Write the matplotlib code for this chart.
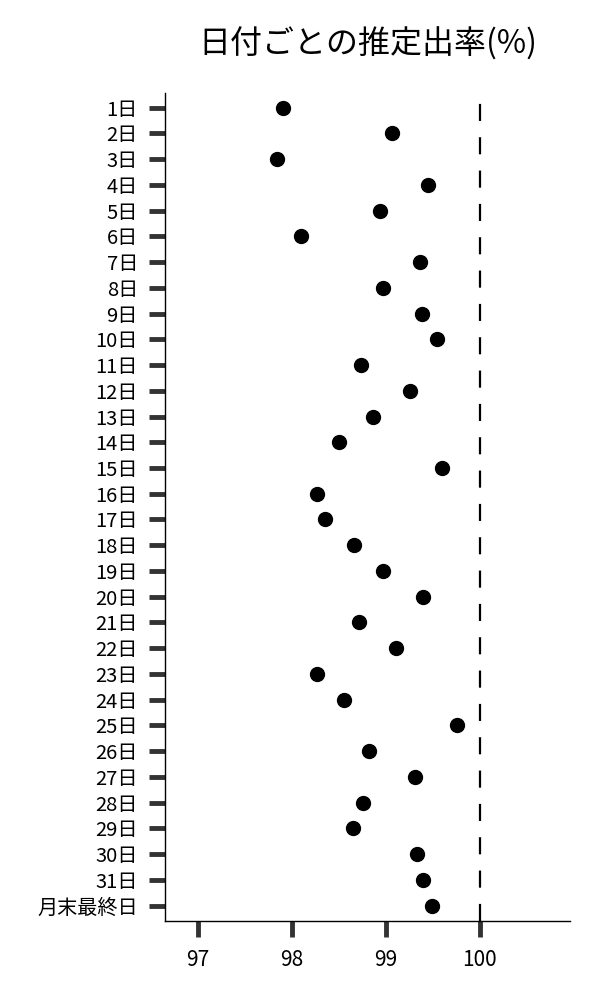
import matplotlib
matplotlib.use("Agg")
import matplotlib.pyplot as plt

plt.rcParams['font.family'] = ['Noto Sans CJK JP', 'DejaVu Sans']

categories = [f"{d}日" for d in range(1, 32)] + ["月末最終日"]
rates = [97.91, 99.07, 97.84, 99.45, 98.94, 98.10, 99.36, 98.97, 99.39, 99.54,
         98.74, 99.26, 98.86, 98.50, 99.60, 98.27, 98.35, 98.66, 98.97, 99.40,
         98.71, 99.11, 98.27, 98.56, 99.76, 98.82, 99.31, 98.76, 98.65, 99.33,
         99.40, 99.49]
reference = 100
xticks = [97, 98, 99, 100]
title = "日付ごとの推定出率(%)"

fig = plt.figure(figsize=(6, 10), dpi=100)
ax = fig.add_axes([0.275, 0.0795, 0.675, 0.8278])

y = list(range(len(categories)))
ax.plot(rates, y, 'o', color='black', markersize=10, linestyle='none', zorder=3)
ax.axvline(reference, color='black', linewidth=1.6, linestyle=(0, (7.7, 7.3)), zorder=2)

ax.set_yticks(y)
ax.set_yticklabels(categories)
ax.set_ylim(len(categories) - 1 + 0.58, -0.58)
ax.set_xticks(xticks)
ax.set_xticklabels([str(t) for t in xticks])
ax.set_xlim(96.65, 100.96)

for s in ['top', 'right']:
    ax.spines[s].set_visible(False)
for s in ['left', 'bottom']:
    ax.spines[s].set_linewidth(1.0)
    ax.spines[s].set_color('black')

ax.tick_params(axis='both', which='major', length=11.5, width=3.5, color='#333333',
               labelcolor='black')
ax.tick_params(axis='y', pad=8, labelsize=14.5)
ax.tick_params(axis='x', pad=9, labelsize=15)

fig.text(0.6125, 1 - 43.7 / 1000, title, ha='center', va='center', fontsize=23)

fig.savefig('out.png', dpi=100)
